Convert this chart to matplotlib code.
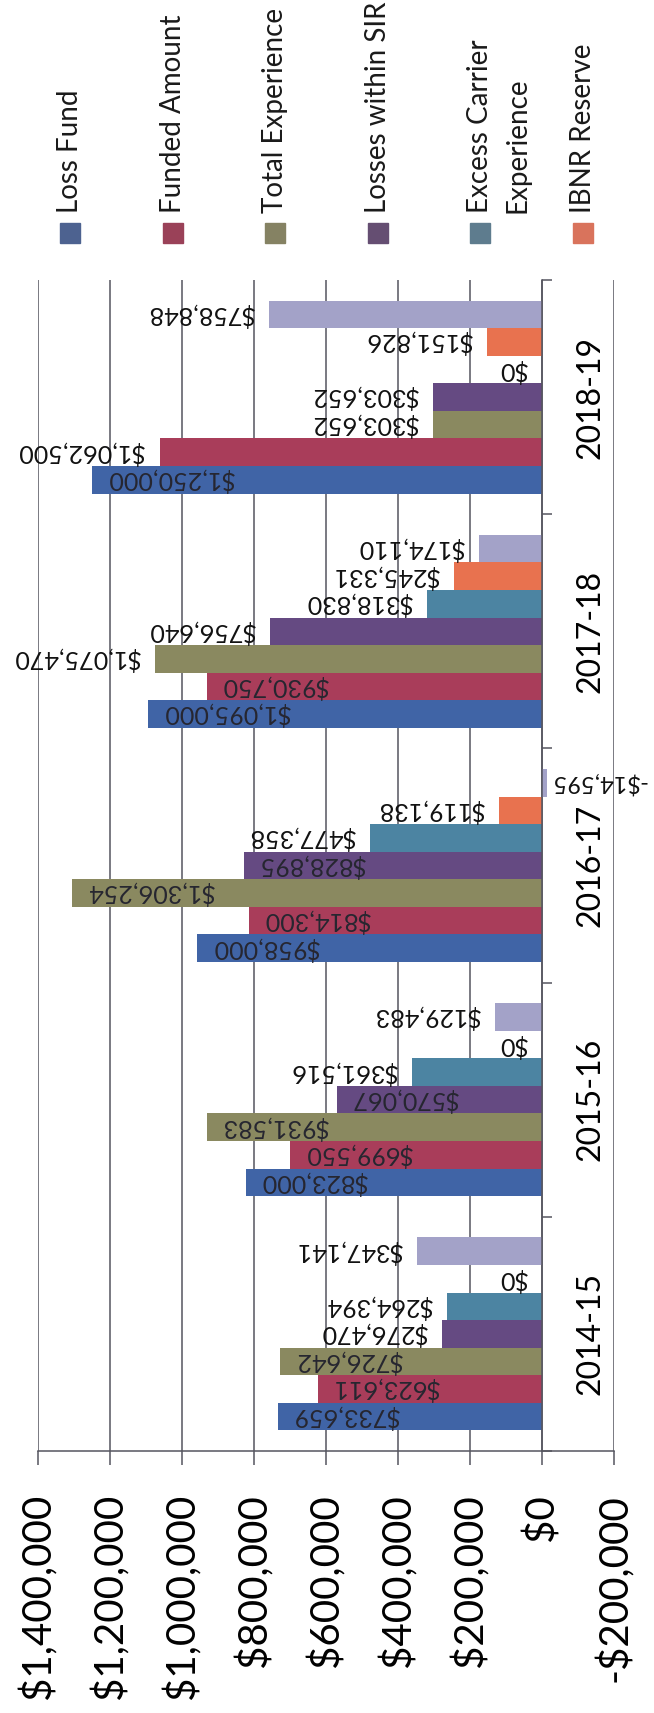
import matplotlib
matplotlib.use("Agg")
import matplotlib.pyplot as plt
import numpy as np
from matplotlib.patches import Rectangle
from matplotlib.ticker import FuncFormatter, MultipleLocator

plt.rcParams["font.family"] = ["Lato", "DejaVu Sans"]

YEARS = ["2014-15", "2015-16", "2016-17", "2017-18", "2018-19"]

LOSS_FUND = [733659, 823000, 958000, 1095000, 1250000]
FUNDED_AMOUNT = [623611, 699550, 814300, 930750, 1062500]
TOTAL_EXPERIENCE = [726642, 931583, 1306254, 1075470, 303652]
LOSSES_WITHIN_SIR = [276470, 570067, 828895, 756640, 303652]
EXCESS_CARRIER = [264394, 361516, 477358, 318830, 0]
IBNR_RESERVE = [0, 0, 119138, 245331, 151826]
REMAINING = [347141, 129483, -14595, 174110, 758848]  # legend entry is cut off in the source

LEGEND_LABELS = ["Loss Fund", "Funded Amount", "Total Experience",
                 "Losses within SIR", "Excess Carrier\nExperience", "IBNR Reserve"]

SERIES = [LOSS_FUND, FUNDED_AMOUNT, TOTAL_EXPERIENCE, LOSSES_WITHIN_SIR,
          EXCESS_CARRIER, IBNR_RESERVE, REMAINING]
COLORS = ["#4064a6", "#a93d5a", "#8a8960", "#654a82", "#4c84a2", "#e8724f", "#a3a2c8"]
LEGEND_COLORS = ["#4d6290", "#9a4158", "#858263", "#654e72", "#5e7c8e", "#d9735c"]

# labels printed inside the bar end (series index, year index)
INSIDE = {(0, k) for k in range(5)} | {(1, 0), (1, 1), (1, 2), (1, 3),
                                       (2, 0), (2, 1), (2, 2), (3, 1), (3, 2)}


def money(v, _pos=None):
    v = int(round(v))
    return f"-${-v:,}" if v < 0 else f"${v:,}"


W, H = 654, 1713
fig = plt.figure(figsize=(W / 100, H / 100), dpi=100)
ax = fig.add_axes([38 / W, 262 / H, 576 / W, 1171 / H])

axis_color = "#55555f"
bar_h = 1 / 8.5
y = np.arange(len(YEARS))
n = len(SERIES)
for i, (vals, color) in enumerate(zip(SERIES, COLORS)):
    pos = y + (i - (n - 1) / 2) * bar_h
    ax.barh(pos, vals, height=bar_h, color=color, zorder=3)
    for k, v in enumerate(vals):
        size = 18
        if (i, k) in INSIDE:
            ha, dx, tc = "left", 10, "#262630"
        elif v < 0:
            # sits right at the page edge, keep it just inside
            ha, dx, tc, size = "left", 2, "#111111", 17
        else:
            ha, dx, tc = "right", -11, "#111111"
        ax.annotate(money(v), (v, pos[k]), xytext=(dx, 0), textcoords="offset points",
                    ha=ha, va="center", rotation=180, fontsize=size, color=tc,
                    zorder=4, annotation_clip=False)

ax.set_xlim(1_400_000, -200_000)
ax.set_ylim(-0.5, len(YEARS) - 0.5)
ax.xaxis.set_major_locator(MultipleLocator(200_000))
ax.xaxis.set_major_formatter(FuncFormatter(money))
ax.grid(axis="x", color=axis_color, lw=1.1, zorder=0)
ax.spines[["top", "left"]].set_visible(False)
ax.spines["bottom"].set_color(axis_color)
ax.spines["bottom"].set_linewidth(1.1)
ax.spines["right"].set_position(("data", 0))
ax.spines["right"].set_color(axis_color)
ax.spines["right"].set_linewidth(1.1)
ax.spines["right"].set_zorder(5)

ax.yaxis.tick_right()
ax.set_yticks(y)
ax.set_yticklabels(YEARS, rotation=90, va="center", fontsize=23)
ax.set_yticks(np.arange(len(YEARS) + 1) - 0.5, minor=True)
ax.tick_params(axis="y", which="major", length=0, pad=24)
ax.tick_params(axis="y", which="minor", length=7, width=1.1, color=axis_color)
ax.tick_params(axis="x", length=10, width=1.1, color=axis_color, pad=21,
               labelsize=29, labelrotation=90)

# legend, drawn rotated like the rest of the page
for i, (label, color) in enumerate(zip(LEGEND_LABELS, LEGEND_COLORS)):
    cx = 70 + i * 102.6
    fig.patches.append(Rectangle(((cx - 10) / W, (H - 243) / H), 20 / W, 20 / H,
                                 transform=fig.transFigure, color=color))
    for j, line in enumerate(label.split("\n")):
        fig.text((cx + j * 37) / W, (H - 213) / H, line, rotation=90,
                 ha="center", va="bottom", fontsize=20, color="#1a1a1a")

fig.savefig("out.png", dpi=100)
